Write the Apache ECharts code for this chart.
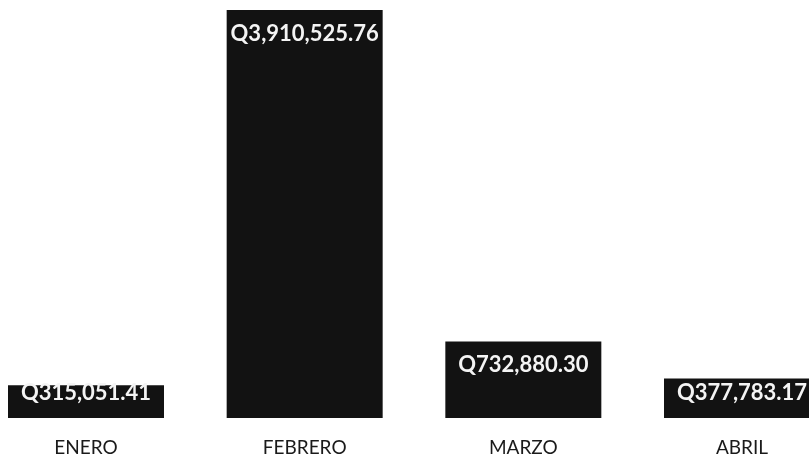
<!DOCTYPE html>
<html>
<head>
<meta charset="utf-8">
<script src="https://cdn.jsdelivr.net/npm/echarts@6/dist/echarts.min.js"></script>
<style>
  html, body { margin: 0; padding: 0; background: #fff; }
  #chart { width: 809px; height: 459px; }
</style>
</head>
<body>
<div id="chart"></div>
<script>
const months = ["ENERO", "FEBRERO", "MARZO", "ABRIL"];
const totals = [315051.41, 3910525.76, 732880.3, 377783.17];

const formatQ = (v) =>
    "Q" + v.toLocaleString("en-US", { minimumFractionDigits: 2, maximumFractionDigits: 2 });

// label offset from the bar top, per bar (the scan isn't consistent)
const labelGap = [-3, 13, 12, 3];

const chart = echarts.init(document.getElementById("chart"));

const option = {
    animation: false,
    grid: {
        left: 86,
        right: 67,
        top: 10,
        bottom: 41,
    },
    xAxis: {
        type: "category",
        data: months,
        boundaryGap: false,
        axisLine: { show: false },
        axisTick: { show: false },
        axisLabel: {
            color: "#1a1a1a",
            fontFamily: "Lato",
            fontSize: 19,
            margin: 20,
        },
    },
    yAxis: {
        type: "value",
        min: 0,
        max: 3910525.76,
        show: false,
        splitLine: { show: false },
    },
    series: [
        {
            type: "bar",
            barWidth: 156,
            clip: false,
            data: totals.map((v, i) => ({
                value: v,
                label: { distance: labelGap[i] },
            })),
            itemStyle: { color: "#121212" },
            label: {
                show: true,
                position: "insideTop",
                color: "#f4f4f4",
                fontFamily: "Lato",
                fontWeight: "bold",
                fontSize: 22,
                formatter: (p) => formatQ(p.value),
            },
        },
    ],
};

chart.setOption(option);
</script>
</body>
</html>
